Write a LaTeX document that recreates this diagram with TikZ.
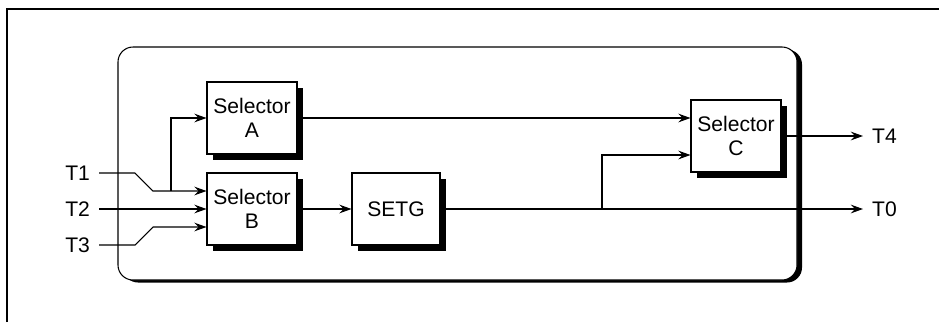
\documentclass[tikz,border=0pt]{standalone}
\usepackage{fontspec}
\setmainfont{Liberation Sans}
\usetikzlibrary{positioning,shadows,arrows.meta}

\begin{document}
\begin{tikzpicture}[x=0.02cm, y=-0.02cm, font=\fontsize{12}{14}\selectfont,
  selbox/.style={draw, fill=white, line width=0.6pt, minimum width=1.8cm,
    minimum height=1.44cm, align=center, inner sep=1pt,
    drop shadow={shadow xshift=0.12cm, shadow yshift=-0.12cm, fill=black, opacity=1}},
  wire/.style={line width=0.6pt, -{Stealth[length=7pt,width=5pt,inset=2.5pt]}},
  lbl/.style={inner sep=5pt}]
\useasboundingbox (0,0) rectangle (939,322);
% outer frame, only top and left edges inside the picture
\draw[line width=1.2pt] (7,322) -- (7,9) -- (939,9);
% rounded housing
\draw[line width=0.6pt, rounded corners=0.3cm, fill=white,
  drop shadow={shadow xshift=0.1cm, shadow yshift=-0.05cm, fill=black, opacity=1}]
  (118,47) rectangle (797,280);

% blocks
\node[selbox] (selA) at (252,118) {Selector\\A};
\node[selbox] (selB) at (252,209) {Selector\\B};
\node[selbox, minimum width=1.76cm] (setg) at (396,209) {SETG};
\node[selbox] (selC) at (736,136) {Selector\\C};

% terminals
\node[lbl, anchor=east] (t1) at (99,173) {T1};
\node[lbl, anchor=east] (t2) at (99,209) {T2};
\node[lbl, anchor=east] (t3) at (99,245) {T3};
\node[lbl, anchor=west] (t4) at (863,136) {T4};
\node[lbl, anchor=west] (t0) at (863,209) {T0};

% bends and junctions
\coordinate (j1) at (171,191);
\coordinate (k3) at (153,227);
\coordinate (j2) at (602,209);
\coordinate (c2) at (602,155);

% inputs
\draw[wire] (t1.east) -- (135,173) -- (153,191) -- (selB.west |- j1);
\draw[wire] (j1) -- (171,118) -- (selA.west);
\draw[wire] (t2.east) -- (selB.west);
\draw[wire] (t3.east) -- (135,245) -- (k3) -- (selB.west |- k3);

% internal paths
\draw[wire] (selA.east) -- (selC.west |- selA.east);
\draw[wire] (selB.east) -- (setg.west);
\draw[wire] (setg.east) -- (t0.west);
\draw[wire] (j2) -- (c2) -- (selC.west |- c2);

% outputs
\draw[wire] (selC.east) -- (t4.west);
\end{tikzpicture}
\end{document}
